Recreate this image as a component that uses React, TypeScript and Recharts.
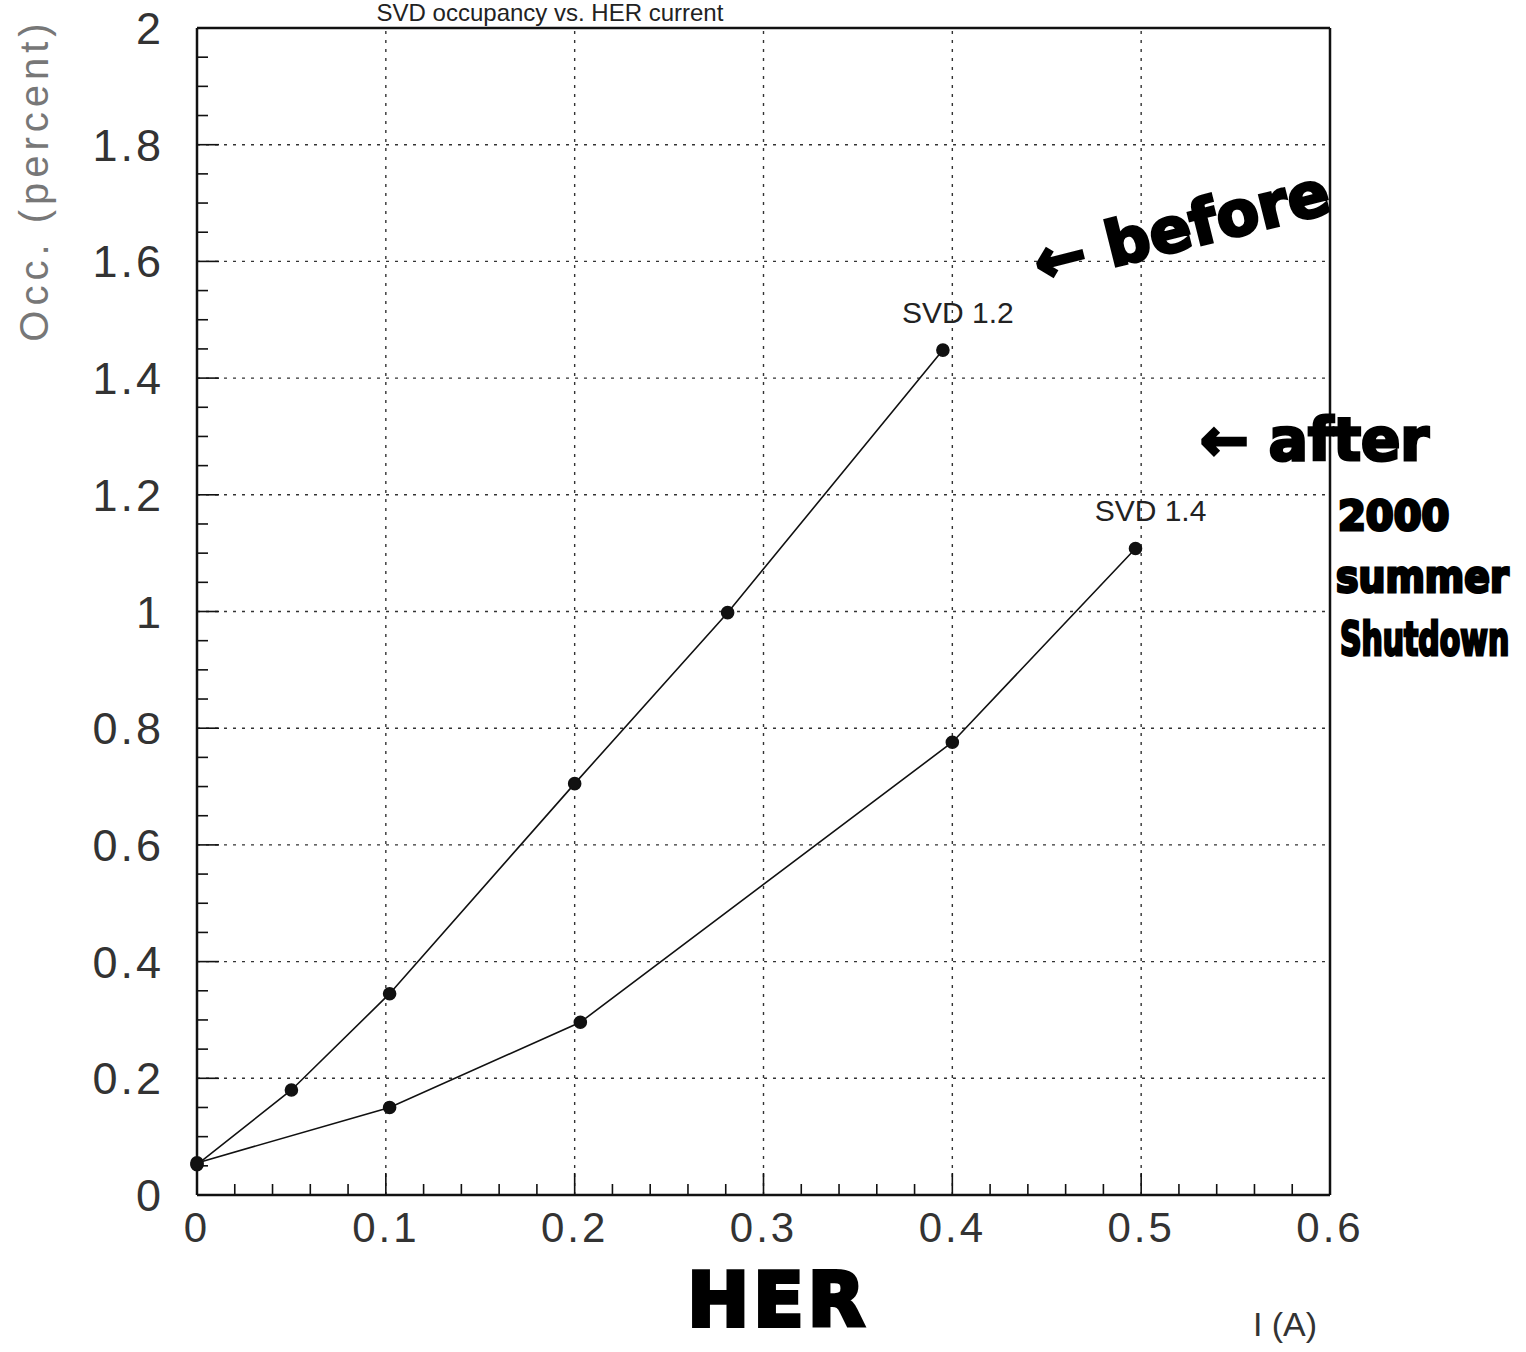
import React from 'react';
import { LineChart, Line, XAxis, YAxis, ReferenceLine, LabelList } from 'recharts';

// SVD occupancy vs HER current
const svd12 = [
  { current: 0, occ: 0.052 },
  { current: 0.05, occ: 0.18 },
  { current: 0.102, occ: 0.345 },
  { current: 0.2, occ: 0.705 },
  { current: 0.281, occ: 0.998 },
  { current: 0.395, occ: 1.448 },
];

const svd14 = [
  { current: 0, occ: 0.055 },
  { current: 0.102, occ: 0.15 },
  { current: 0.203, occ: 0.296 },
  { current: 0.4, occ: 0.776 },
  { current: 0.497, occ: 1.108 },
];

const xMajor = [0, 0.1, 0.2, 0.3, 0.4, 0.5, 0.6];
const yMajor = [0, 0.2, 0.4, 0.6, 0.8, 1, 1.2, 1.4, 1.6, 1.8, 2];
const xGrid = [0.1, 0.2, 0.3, 0.4, 0.5];
const yGrid = [0.2, 0.4, 0.6, 0.8, 1, 1.2, 1.4, 1.6, 1.8];

const xTicks = Array.from({ length: 31 }, (_, i) => Math.round(i * 2) / 100);
const yTicks = Array.from({ length: 41 }, (_, i) => Math.round(i * 5) / 100);

const INK = '#111';
const FONT = '"Liberation Sans", Arial, sans-serif';
const MAJOR = 22;
const MINOR = 11;

const isMajor = (v: number, list: number[]) => list.some((m) => Math.abs(m - v) < 1e-6);

const BottomTick = (props: any) => {
  const { x, y, payload } = props;
  const major = isMajor(payload.value, xMajor);
  return (
    <g>
      <line x1={x} x2={x} y1={y} y2={y - (major ? MAJOR : MINOR)} stroke={INK} strokeWidth={1.6} />
      {major && (
        <text x={x} y={y + 47} textAnchor="middle" fontSize={42} fontFamily={FONT} fill="#333" letterSpacing={3}>
          {String(payload.value)}
        </text>
      )}
    </g>
  );
};

const TopTick = (props: any) => {
  const { x, y, payload } = props;
  const major = isMajor(payload.value, xMajor);
  return <line x1={x} x2={x} y1={y} y2={y + (major ? MAJOR : MINOR)} stroke={INK} strokeWidth={1.6} />;
};

const LeftTick = (props: any) => {
  const { x, y, payload } = props;
  const major = isMajor(payload.value, yMajor);
  return (
    <g>
      <line x1={x} x2={x + (major ? MAJOR : MINOR)} y1={y} y2={y} stroke={INK} strokeWidth={1.6} />
      {major && (
        <text x={x - 33} y={y + 16} textAnchor="end" fontSize={45} fontFamily={FONT} fill="#333" letterSpacing={3}>
          {String(payload.value)}
        </text>
      )}
    </g>
  );
};

const RightTick = (props: any) => {
  const { x, y, payload } = props;
  const major = isMajor(payload.value, yMajor);
  return <line x1={x} x2={x - (major ? MAJOR : MINOR)} y1={y} y2={y} stroke={INK} strokeWidth={1.6} />;
};

const lastLabel = (name: string, count: number) => (props: any) => {
  const { x, y, index } = props;
  if (index !== count - 1) return null;
  return (
    <text x={x + 15} y={y - 27} textAnchor="middle" fontSize={30} fontFamily={FONT} fill="#222">
      {name}
    </text>
  );
};

const hand = {
  fontFamily: '"DejaVu Sans", sans-serif',
  fontWeight: 900,
  fill: '#000',
  stroke: '#000',
  strokeWidth: 3,
} as const;

export default function App() {
  return (
    <div style={{ position: 'absolute', left: 0, top: 0, width: 1526, height: 1352, background: '#fff' }}>
      <LineChart width={1526} height={1352} margin={{ top: 0, right: 0, bottom: 0, left: 0 }}>
        <XAxis
          xAxisId="b"
          dataKey="current"
          type="number"
          domain={[0, 0.6]}
          ticks={xTicks}
          interval={0}
          orientation="bottom"
          height={157}
          tickSize={0}
          tickMargin={0}
          tick={<BottomTick />}
          axisLine={{ stroke: INK, strokeWidth: 2.5 }}
        />
        <XAxis
          xAxisId="t"
          dataKey="current"
          type="number"
          domain={[0, 0.6]}
          ticks={xTicks}
          interval={0}
          orientation="top"
          height={28}
          tickSize={0}
          tickMargin={0}
          tick={<TopTick />}
          axisLine={{ stroke: INK, strokeWidth: 2.5 }}
        />
        <YAxis
          yAxisId="l"
          type="number"
          domain={[0, 2]}
          ticks={yTicks}
          interval={0}
          orientation="left"
          width={197}
          tickSize={0}
          tickMargin={0}
          tick={<LeftTick />}
          axisLine={{ stroke: INK, strokeWidth: 2.5 }}
        />
        <YAxis
          yAxisId="r"
          type="number"
          domain={[0, 2]}
          ticks={yTicks}
          interval={0}
          orientation="right"
          width={196}
          tickSize={0}
          tickMargin={0}
          tick={<RightTick />}
          axisLine={{ stroke: INK, strokeWidth: 2.5 }}
        />
        {xGrid.map((v) => (
          <ReferenceLine key={'x' + v} x={v} xAxisId="b" yAxisId="l" stroke="#333" strokeWidth={1.4} strokeDasharray="3 6" />
        ))}
        {yGrid.map((v) => (
          <ReferenceLine key={'y' + v} y={v} xAxisId="b" yAxisId="l" stroke="#333" strokeWidth={1.4} strokeDasharray="3 6" />
        ))}
        <Line
          data={svd12}
          dataKey="occ"
          xAxisId="b"
          yAxisId="l"
          stroke={INK}
          strokeWidth={1.6}
          dot={{ r: 6, fill: INK, stroke: INK }}
          isAnimationActive={false}
        >
          <LabelList dataKey="occ" content={lastLabel('SVD 1.2', svd12.length)} />
        </Line>
        <Line
          data={svd14}
          dataKey="occ"
          xAxisId="b"
          yAxisId="l"
          stroke={INK}
          strokeWidth={1.6}
          dot={{ r: 6, fill: INK, stroke: INK }}
          isAnimationActive={false}
        >
          <LabelList dataKey="occ" content={lastLabel('SVD 1.4', svd14.length)} />
        </Line>
      </LineChart>

      <svg
        width={1526}
        height={1352}
        style={{ position: 'absolute', left: 0, top: 0, pointerEvents: 'none' }}
      >
        <text x={550} y={21} textAnchor="middle" fontSize={24} fontFamily={FONT} fill="#222">
          SVD occupancy vs. HER current
        </text>
        <text
          x={0}
          y={0}
          transform="translate(48,180) rotate(-90)"
          textAnchor="middle"
          fontSize={40}
          fontFamily={FONT}
          fill="#777"
          letterSpacing={5}
        >
          Occ. (percent)
        </text>
        <text x={1285} y={1336} textAnchor="middle" fontSize={34} fontFamily={FONT} fill="#333">
          I (A)
        </text>
        <text x={778} y={1326} textAnchor="middle" fontSize={74} {...hand} strokeWidth={4} letterSpacing={4}>
          HER
        </text>
        <text x={1040} y={285} fontSize={62} {...hand} transform="rotate(-14 1040 285)">
          ← before
        </text>
        <text x={1200} y={460} fontSize={58} {...hand}>
          ← after
        </text>
        <text x={1338} y={530} fontSize={40} {...hand}>
          2000
        </text>
        <text x={0} y={0} fontSize={44} {...hand} transform="translate(1336,592) scale(0.86,1)">
          summer
        </text>
        <text x={0} y={0} fontSize={46} {...hand} transform="translate(1340,655) scale(0.65,1)">
          Shutdown
        </text>
      </svg>
    </div>
  );
}
